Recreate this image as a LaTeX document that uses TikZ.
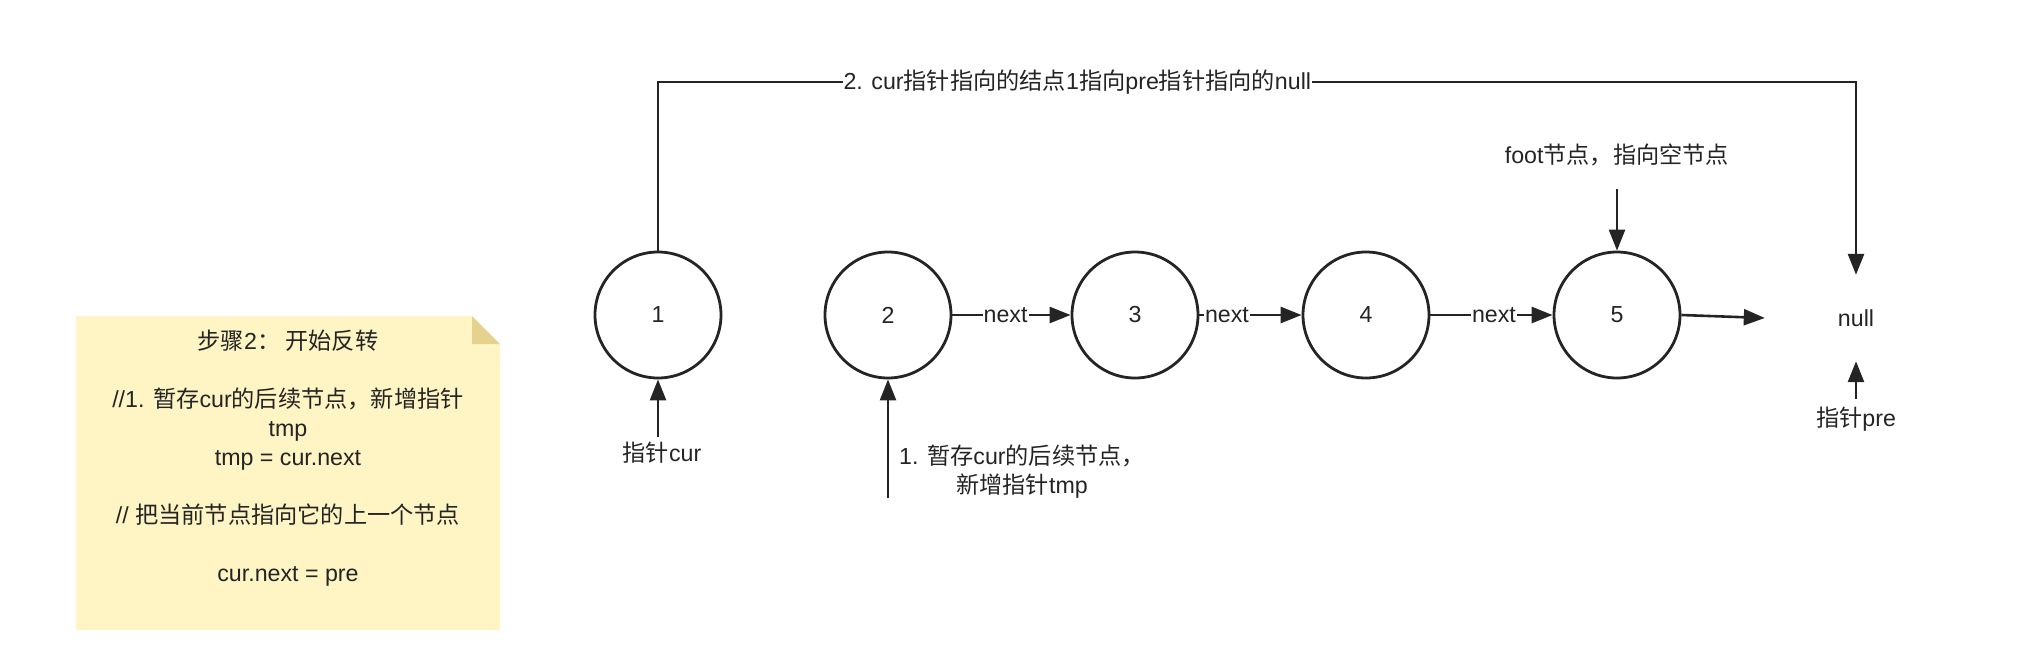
\documentclass[tikz,border=0pt]{standalone}
\usepackage{fontspec}
\setmainfont{Liberation Sans}
\newfontfamily\cjk{Noto Sans CJK SC}
\newcommand{\zh}[1]{{\cjk #1}}
\usetikzlibrary{arrows.meta}
\definecolor{ink}{RGB}{36,36,36}
\definecolor{notefill}{RGB}{255,244,195}
\definecolor{notefold}{RGB}{229,210,142}
\begin{document}
\begin{tikzpicture}[x=1pt,y=-1pt,
  every node/.style={font=\fontsize{23.2}{29}\selectfont, text=ink},
  lnode/.style={draw=ink, line width=2.8pt, circle, minimum size=126pt, inner sep=0pt},
  conn/.style={draw=ink, line width=2.6pt, -{Triangle[length=21pt,width=16pt]}},
  lbl/.style={fill=white, inner sep=1pt},
  plain/.style={inner sep=0pt}
]
\useasboundingbox (0,0) rectangle (2032,670);
% note
\fill[notefill] (76,316) -- (472,316) -- (500,344) -- (500,630) -- (76,630) -- cycle;
\fill[notefold] (472,316) -- (472,344) -- (500,344) -- cycle;
\node[plain, align=center] (note) at (288,458) {\zh{步骤}2\zh{：\ 开始反转}\\[29pt]
//1. \zh{暂存}cur\zh{的后续节点，新增指针}\\ tmp\\ tmp = cur.next\\[29pt]
// \zh{把当前节点指向它的上一个节点}\\[29pt]
cur.next = pre};
% list nodes
\node[lnode] (n1) at (658,315) {1};
\node[lnode] (n2) at (888,315) {2};
\node[lnode] (n3) at (1135,315) {3};
\node[lnode] (n4) at (1366,315) {4};
\node[lnode] (n5) at (1617,315) {5};
\node[plain, minimum width=182pt, minimum height=86pt] (null) at (1856,318) {null};
% next edges
\draw[conn] (n2.east) -- node[lbl, pos=0.45] {next} (n3.west);
\draw[conn] (n3.east) -- node[lbl, pos=0.27] {next} (n4.west);
\draw[conn] (n4.east) -- node[lbl, pos=0.52] {next} (n5.west);
\draw[conn] (n5.east) -- (null.west);
% top connector
\coordinate (tl) at (658,82);
\coordinate (tr) at (1856,82);
\draw[conn] (n1.north) -- (tl) -- node[lbl, pos=0.35] {2. cur\zh{指针指向的结点}1\zh{指向}pre\zh{指针指向的}null} (tr) -- (null.north);
% foot
\node[plain] (foot) at (1617,155) {foot\zh{节点，指向空节点}};
\coordinate (footarr) at (1617,189);
\draw[conn] (footarr) -- (n5.north);
% cur pointer
\node[plain] (cur) at (662,453) {\zh{指针}cur};
\coordinate (curarr) at (658,437);
\draw[conn] (curarr) -- (n1.south);
% tmp pointer
\coordinate (tmparr) at (888,498);
\draw[conn] (tmparr) -- (n2.south);
\node[plain, align=center] (tmp) at (1022,472) {1. \zh{暂存}cur\zh{的后续节点，}\\ \zh{新增指针}tmp};
% pre pointer
\node[plain] (pre) at (1856,419) {\zh{指针}pre};
\coordinate (prearr) at (1856,399);
\draw[conn] (prearr) -- (null.south);
\end{tikzpicture}
\end{document}
